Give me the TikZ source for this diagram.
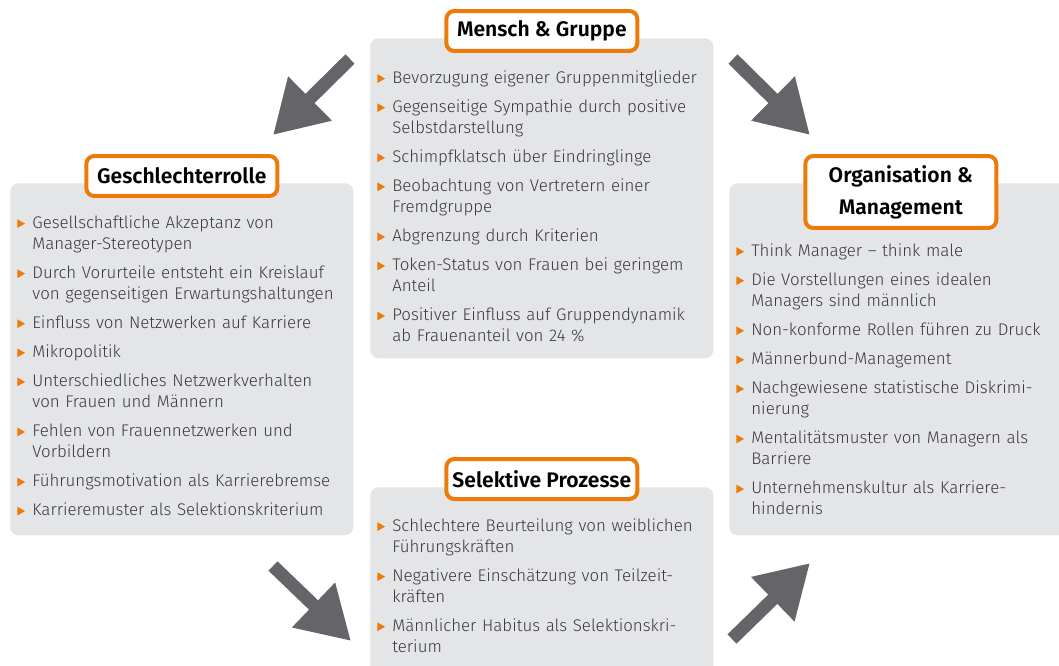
\documentclass[tikz,border=0pt]{standalone}
\usepackage{xcolor}
\usepackage{fontspec}
\setmainfont{Fira Sans Light}[BoldFont=Fira Sans SemiBold]
\usepackage{tikz}
\usetikzlibrary{positioning}
\usetikzlibrary{arrows.meta}

\definecolor{orangerand}{RGB}{236,123,10}
\definecolor{panelgrau}{RGB}{228,229,230}
\definecolor{pfeilgrau}{RGB}{101,100,105}
\definecolor{textgrau}{RGB}{58,58,60}

% orange triangle in front of every point
\newcommand{\punkt}{\strut\tikz[baseline=0pt]\fill[orangerand] (0,0.2pt) -- (4.4pt,2.7pt) -- (0,5.2pt) -- cycle;}
\newenvironment{punkte}{\begin{list}{\punkt\hfill}{%
    \setlength{\leftmargin}{0.3cm}\setlength{\labelwidth}{0.3cm}%
    \setlength{\labelsep}{0pt}\setlength{\itemsep}{4.6pt}%
    \setlength{\topsep}{0pt}\setlength{\partopsep}{0pt}\setlength{\parsep}{0pt}}}%
  {\end{list}}

\tikzset{
  panel/.style={fill=panelgrau, rounded corners=0.16cm, inner sep=0pt,
    anchor=north west, minimum width=6.86cm},
  titel/.style={draw=orangerand, line width=0.08cm, fill=white, rounded corners=0.16cm,
    minimum width=3.82cm, minimum height=0.8cm, inner sep=0.1cm, align=center,
    font=\fontsize{12}{18.2}\selectfont\bfseries, text=black},
  liste/.style={inner sep=0pt, text width=8cm, text=textgrau,
    font=\fontsize{9.6}{11.95}\selectfont},
  dickpfeil/.style={draw=pfeilgrau, line width=0.26cm,
    -{Triangle[length=1.04cm, width=1.17cm]}},
}

\begin{document}
\begin{tikzpicture}[x=0.02cm, y=-0.02cm]
            \clip (0,0) rectangle (1059,666);

            \node (mgPanel) at (370, 38) [panel, minimum height=6.4cm] {};
            \node (gsPanel) at (10, 183) [panel, minimum height=7.04cm] {};
            \node (omPanel) at (729, 183) [panel, minimum height=7.04cm] {};
            \node (spPanel) at (370, 487) [panel, minimum height=4.4cm] {};

            %Headings sit on the upper edge of each panel.
            \node (mgTitel) at ([yshift=0.58cm]mgPanel.north) [titel, anchor=north] {Mensch \& Gruppe};
            \node (gsTitel) at ([yshift=0.58cm]gsPanel.north) [titel, anchor=north] {Geschlechterrolle};
            \node (omTitel) at ([yshift=0.58cm]omPanel.north) [titel, anchor=north, minimum height=1.44cm] {Organisation \&\\Management};
            \node (spTitel) at ([yshift=0.6cm]spPanel.north) [titel, anchor=north] {Selektive Prozesse};

            \node (mgListe) [liste, below right=0.48cm and 0.14cm of mgPanel.north west] {\raggedright
              \begin{punkte}
                \item Bevorzugung eigener Gruppenmitglieder
                \item Gegenseitige Sympathie durch positive\\Selbstdarstellung
                \item Schimpfklatsch über Eindringlinge
                \item Beobachtung von Vertretern einer\\Fremdgruppe
                \item Abgrenzung durch Kriterien
                \item Token-Status von Frauen bei geringem\\Anteil
                \item Positiver Einfluss auf Gruppendynamik\\ab Frauenanteil von 24 \%
              \end{punkte}};

            \node (gsListe) [liste, below right=0.48cm and 0.14cm of gsPanel.north west] {\raggedright
              \begin{punkte}
                \item Gesellschaftliche Akzeptanz von\\Manager-Stereotypen
                \item Durch Vorurteile entsteht ein Kreislauf\\von gegenseitigen Erwartungshaltungen
                \item Einfluss von Netzwerken auf Karriere
                \item Mikropolitik
                \item Unterschiedliches Netzwerkverhalten\\von Frauen und Männern
                \item Fehlen von Frauennetzwerken und\\Vorbildern
                \item Führungsmotivation als Karrierebremse
                \item Karrieremuster als Selektionskriterium
              \end{punkte}};

            \node (omListe) [liste, below right=1.04cm and 0.14cm of omPanel.north west] {\raggedright
              \begin{punkte}
                \item Think Manager – think male
                \item Die Vorstellungen eines idealen\\Managers sind männlich
                \item Non-konforme Rollen führen zu Druck
                \item Männerbund-Management
                \item Nachgewiesene statistische Diskrimi-\\nierung
                \item Mentalitätsmuster von Managern als\\Barriere
                \item Unternehmenskultur als Karriere-\\hindernis
              \end{punkte}};

            \node (spListe) [liste, below right=0.46cm and 0.14cm of spPanel.north west] {\raggedright
              \begin{punkte}
                \item Schlechtere Beurteilung von weiblichen\\Führungskräften
                \item Negativere Einschätzung von Teilzeit-\\kräften
                \item Männlicher Habitus als Selektionskri-\\terium
              \end{punkte}};

            %Big arrows running round the panels.
            \coordinate (pfeilA1) at (350, 59);
            \coordinate (pfeilA2) at (273, 135);
            \coordinate (pfeilB1) at (733, 59);
            \coordinate (pfeilB2) at (810, 135);
            \coordinate (pfeilC1) at (273, 566);
            \coordinate (pfeilC2) at (351, 641);
            \coordinate (pfeilD1) at (732, 639);
            \coordinate (pfeilD2) at (810, 563);

            \draw[dickpfeil] (pfeilA1) -- (pfeilA2);
            \draw[dickpfeil] (pfeilB1) -- (pfeilB2);
            \draw[dickpfeil] (pfeilC1) -- (pfeilC2);
            \draw[dickpfeil] (pfeilD1) -- (pfeilD2);
        \end{tikzpicture}
\end{document}
